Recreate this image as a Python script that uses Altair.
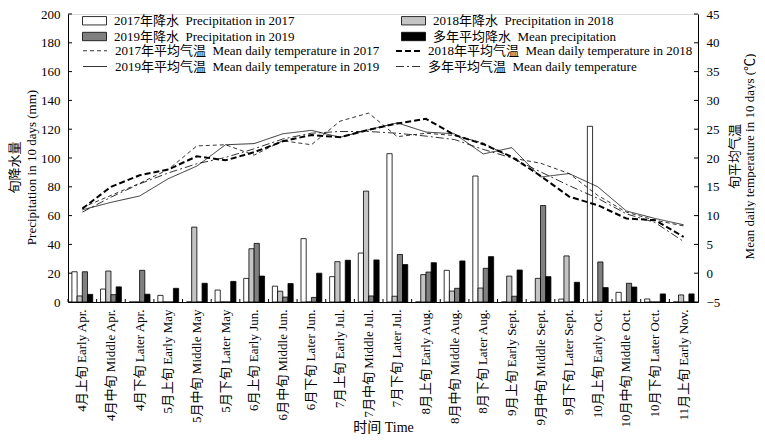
import altair as alt
import pandas as pd

FONT = "Liberation Serif, Noto Sans CJK SC"
SP = "\u00a0\u00a0"

categories = [
    "4月上旬 Early Apr.", "4月中旬 Middle Apr.", "4月下旬 Later Apr.",
    "5月上旬 Early May", "5月中旬 Middle May", "5月下旬 Later May",
    "6月上旬 Early Jun.", "6月中旬 Middle Jun.", "6月下旬 Later Jun.",
    "7月上旬 Early Jul.", "7月中旬 Middle Jul.", "7月下旬 Later Jul.",
    "8月上旬 Early Aug.", "8月中旬 Middle Aug.", "8月下旬 Later Aug.",
    "9月上旬 Early Sept.", "9月中旬 Middle Sept.", "9月下旬 Later Sept.",
    "10月上旬 Early Oct.", "10月中旬 Middle Oct.", "10月下旬 Later Oct.",
    "11月上旬 Early Nov.",
]

bar_series = [
    "2017年降水" + SP + "Precipitation in 2017",
    "2018年降水" + SP + "Precipitation in 2018",
    "2019年降水" + SP + "Precipitation in 2019",
    "多年平均降水" + SP + "Mean precipitation",
]
line_series = [
    "2017年平均气温" + SP + "Mean daily temperature in 2017",
    "2018年平均气温" + SP + "Mean daily temperature in 2018",
    "2019年平均气温" + SP + "Mean daily temperature in 2019",
    "多年平均气温" + SP + "Mean daily temperature",
]

precip_2017 = [21, 9, 0, 4.6, 0, 8.3, 16.4, 11, 44, 17.6, 34, 103, 0, 22, 87.5, 0, 0, 2, 122, 6.7, 2.1, 0]
precip_2018 = [4.2, 21.5, 0, 0, 52, 0, 37, 7.5, 0, 28, 77, 4, 19, 7.6, 9.7, 18, 16.4, 32, 0, 0, 0, 4.9]
precip_2019 = [21, 5.1, 22, 0, 0, 0, 40.7, 3.4, 3.2, 0, 4.2, 33, 20.8, 9.5, 23.4, 4, 67, 0, 27.8, 13, 0, 0]
precip_mean = [5.3, 10.5, 5.4, 9.5, 13, 14.3, 18, 12.8, 20, 29, 29.2, 26, 27.3, 28.5, 31.5, 22.2, 17.6, 13.7, 10, 10.4, 5.6, 5.6]

temp_2017 = [11.4, 13.5, 15.6, 18.0, 22.1, 22.3, 20.5, 23.0, 22.3, 26.4, 27.8, 23.7, 24.3, 23.9, 22.6, 20.0, 19.1, 17.3, 13.5, 10.6, 9.2, 8.2]
temp_2018 = [11.2, 15.0, 17.0, 18.0, 20.3, 19.6, 21.0, 22.9, 24.0, 23.6, 24.9, 26.0, 26.8, 24.0, 22.4, 20.2, 16.9, 13.3, 11.8, 9.5, 9.2, 6.3]
temp_2019 = [11.0, 12.3, 13.4, 16.4, 18.6, 22.3, 22.5, 24.2, 24.8, 23.6, 24.9, 26.1, 24.5, 24.2, 20.7, 21.8, 16.7, 17.3, 15.0, 10.8, 9.5, 8.4]
temp_mean = [10.6, 13.2, 15.5, 17.4, 19.0, 20.1, 21.6, 23.3, 24.3, 24.6, 24.6, 24.3, 23.8, 23.2, 21.5, 20.0, 17.6, 15.2, 13.0, 10.3, 8.8, 5.5]

precip_ticks = [0, 20, 40, 60, 80, 100, 120, 140, 160, 180, 200]
temp_ticks = [-5, 0, 5, 10, 15, 20, 25, 30, 35, 40, 45]

bar_colors = ["#ffffff", "#c4c4c4", "#808080", "#000000"]
line_dashes = [[4, 3], [6, 3], [1, 0], [8, 3, 2, 3]]
line_widths = [0.8, 2.0, 0.8, 0.8]

W, H = 630, 288

rows = []
for s, vals in zip(bar_series, [precip_2017, precip_2018, precip_2019, precip_mean]):
    for c, v in zip(categories, vals):
        rows.append({"cat": c, "series": s, "value": v})
df_bar = pd.DataFrame(rows)

rows = []
for s, vals in zip(line_series, [temp_2017, temp_2018, temp_2019, temp_mean]):
    for c, v in zip(categories, vals):
        rows.append({"cat": c, "series": s, "temp": v})
df_line = pd.DataFrame(rows)

df_cat = pd.DataFrame({"cat": categories})
df_pt = pd.DataFrame({"value": precip_ticks})
df_tt = pd.DataFrame({"temp": temp_ticks})

p_scale = alt.Scale(domain=[0, 200], nice=False, zero=False)
t_scale = alt.Scale(domain=[-5, 45], nice=False, zero=False)

x_axis = alt.Axis(
    title="时间 Time", labelAngle=270, labelFontSize=13, labelFont=FONT,
    ticks=False, labelPadding=7, labelLimit=300,
    titleFont=FONT, titleFontSize=14, titleFontWeight="normal",
    titleBaseline="alphabetic", titleY=129,
    domainColor="black", domainWidth=1,
)
x_enc = alt.X("cat:N", sort=categories,
              scale=alt.Scale(paddingInner=0, paddingOuter=0), axis=x_axis)

y_left_axis = alt.Axis(
    orient="left", values=precip_ticks, ticks=False, labelPadding=8,
    labelFont=FONT, labelFontSize=13, grid=False,
    domainColor="black", domainWidth=1,
    title=["旬降水量", "Precipitation in 10 days (mm)"],
    titleFont=FONT, titleFontSize=13, titleFontWeight="normal",
    titleAngle=270, titleBaseline="bottom", titleAlign="center",
    titleX=-47, titleY=153, titleLineHeight=17,
)
y_right_axis = alt.Axis(
    orient="right", values=temp_ticks, ticks=False, labelPadding=8,
    labelFont=FONT, labelFontSize=13, grid=False,
    domainColor="black", domainWidth=1,
    title=["旬平均气温", "Mean daily temperature in 10 days (℃)"],
    titleFont=FONT, titleFontSize=13, titleFontWeight="normal",
    titleAngle=270, titleBaseline="top", titleAlign="center",
    titleX=30, titleY=142, titleLineHeight=15,
)

bars = alt.Chart(df_bar).mark_bar(stroke="black", strokeWidth=0.8).encode(
    x=x_enc,
    xOffset=alt.XOffset("series:N", sort=bar_series,
                        scale=alt.Scale(paddingOuter=0.75, paddingInner=0)),
    y=alt.Y("value:Q", scale=p_scale, axis=y_left_axis),
    fill=alt.Fill("series:N", sort=bar_series,
                  scale=alt.Scale(domain=bar_series, range=bar_colors),
                  legend=alt.Legend(
                      title=None, orient="none", legendX=20, legendY=0,
                      direction="horizontal", columns=2, columnPadding=104,
                      rowPadding=2,
                      symbolType="M-2,-0.7H2V0.7H-2Z", symbolSize=144,
                      symbolStrokeColor="black", symbolStrokeWidth=0.8,
                      labelFont=FONT, labelFontSize=13, labelLimit=400,
                      labelOffset=13, padding=0,
                  )),
)

left_ticks = alt.Chart(df_pt).mark_rule(color="black", strokeWidth=1).encode(
    y=alt.Y("value:Q", scale=p_scale, axis=y_left_axis),
    x=alt.value(0), x2=alt.value(4),
)

x_ticks = alt.Chart(df_cat).mark_rule(color="black", strokeWidth=1).encode(
    x=alt.X("cat:N", sort=categories, bandPosition=0, axis=x_axis),
    y=alt.value(H - 3), y2=alt.value(H),
)

leg_line = alt.Legend(
    title=None, orient="none", legendX=20, legendY=30,
    direction="horizontal", columns=2, columnPadding=12, rowPadding=2,
    symbolType="M-2,0H2", symbolSize=144, symbolStrokeColor="black",
    labelFont=FONT, labelFontSize=13, labelLimit=400, labelOffset=13, padding=0,
)

lines = alt.Chart(df_line).mark_line(color="black").encode(
    x=alt.X("cat:N", sort=categories, axis=x_axis),
    y=alt.Y("temp:Q", scale=t_scale, axis=y_right_axis),
    strokeDash=alt.StrokeDash("series:N", sort=line_series,
                              scale=alt.Scale(type="ordinal", domain=line_series, range=line_dashes),
                              legend=leg_line),
    strokeWidth=alt.StrokeWidth("series:N", sort=line_series,
                                scale=alt.Scale(type="ordinal", domain=line_series, range=line_widths),
                                legend=leg_line),
)

right_ticks = alt.Chart(df_tt).mark_rule(color="black", strokeWidth=1).encode(
    y=alt.Y("temp:Q", scale=t_scale, axis=y_right_axis),
    x=alt.value(W - 4), x2=alt.value(W),
)

layer_p = alt.layer(bars, left_ticks, x_ticks)
layer_t = alt.layer(lines, right_ticks)

chart = alt.layer(layer_p, layer_t).resolve_scale(y="independent").properties(
    width=W, height=H, padding=0,
).configure_view(stroke=None).configure(background="white")

chart.save("out.html", embed_options={"renderer": "svg", "actions": False})
